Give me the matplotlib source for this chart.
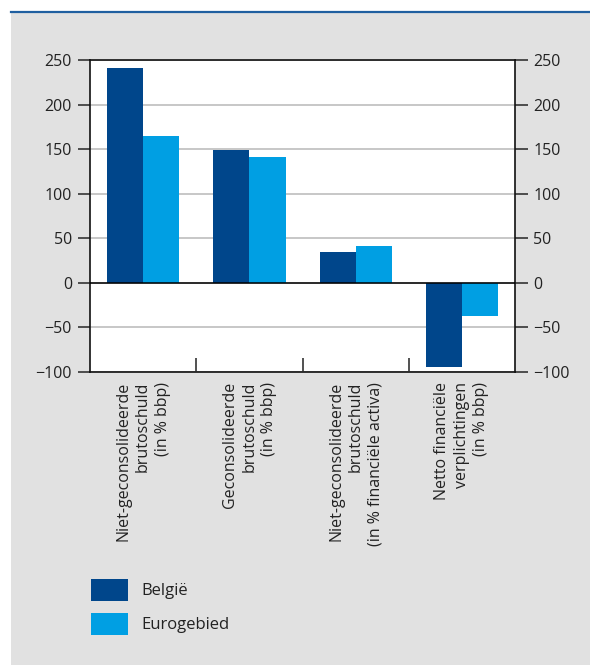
import numpy as np
import matplotlib
matplotlib.use('Agg')
import matplotlib.pyplot as plt
from matplotlib.patches import Patch, Rectangle
from matplotlib.lines import Line2D

plt.rcParams['font.family'] = ['Open Sans', 'DejaVu Sans']

categories = [
    'Niet-geconsolideerde\nbrutoschuld\n(in % bbp)',
    'Geconsolideerde\nbrutoschuld\n(in % bbp)',
    'Niet-geconsolideerde\nbrutoschuld\n(in % financiële activa)',
    'Netto financiële\nverplichtingen\n(in % bbp)',
]
belgie = [241.5, 149.4, 34.3, -94.0]
eurogebied = [164.3, 141.6, 41.8, -37.6]
series_names = ['België', 'Eurogebied']
yticks = [-100, -50, 0, 50, 100, 150, 200, 250]

dark_blue = '#00468b'
light_blue = '#009fe3'
bg_grey = '#e1e1e1'
text_col = '#222222'

fig = plt.figure(figsize=(5.9, 6.65), dpi=100)
fig.patch.set_facecolor('white')

# grey panel and blue rule on top
fig.patches.append(Rectangle((11 / 590, 0), 1, 1 - 13 / 665, transform=fig.transFigure,
                             facecolor=bg_grey, edgecolor='none', zorder=0))
fig.lines.append(Line2D([11 / 590, 1], [1 - 12 / 665, 1 - 12 / 665], transform=fig.transFigure,
                        color='#1f5fa0', lw=1.6, zorder=1))

ax = fig.add_axes([90 / 590, 1 - 372 / 665, 425 / 590, 312 / 665])
ax.set_zorder(5)
ax.set_facecolor('white')

x = np.arange(len(categories))
w = 0.34
ax.bar(x - w / 2, belgie, w, color=dark_blue, zorder=3)
ax.bar(x + w / 2, eurogebied, w, color=light_blue, zorder=3)

ax.set_xlim(-0.5, len(categories) - 0.5)
ax.set_ylim(-100, 250)
ax.set_yticks(yticks)
ax.set_yticklabels(['\u2212' + str(-v) if v < 0 else str(v) for v in yticks])
ax.yaxis.grid(True, color='#bdbdbd', lw=1.2, zorder=1)
ax.axhline(0, color='black', lw=1.1, zorder=4)

ax.set_xticks(x)
ax.set_xticklabels(categories, rotation=90, va='top', ha='center',
                   multialignment='right', fontsize=11.5, color=text_col,
                   linespacing=1.3)
ax.set_xticks(x[:-1] + 0.5, minor=True)
ax.tick_params(axis='x', which='major', length=0, pad=7)
ax.tick_params(axis='x', which='minor', direction='in', length=10, width=1.2, color='#333333')
ax.tick_params(axis='y', direction='out', length=9, width=1.2, color='#333333',
               labelsize=11.5, labelcolor=text_col, right=True, labelright=True, pad=4)

for s in ax.spines.values():
    s.set_color('#111111')
    s.set_linewidth(1.2)

handles = [Patch(facecolor=dark_blue, edgecolor='none'),
           Patch(facecolor=light_blue, edgecolor='none')]
fig.legend(handles, series_names, loc='upper left', bbox_to_anchor=(91 / 590, 1 - 579 / 665),
           frameon=False, fontsize=12, handlelength=2.2, handleheight=1.62,
           labelspacing=0.75, handletextpad=0.85, borderpad=0, borderaxespad=0,
           labelcolor=text_col)

fig.savefig('out.png', dpi=100, facecolor=fig.get_facecolor())
